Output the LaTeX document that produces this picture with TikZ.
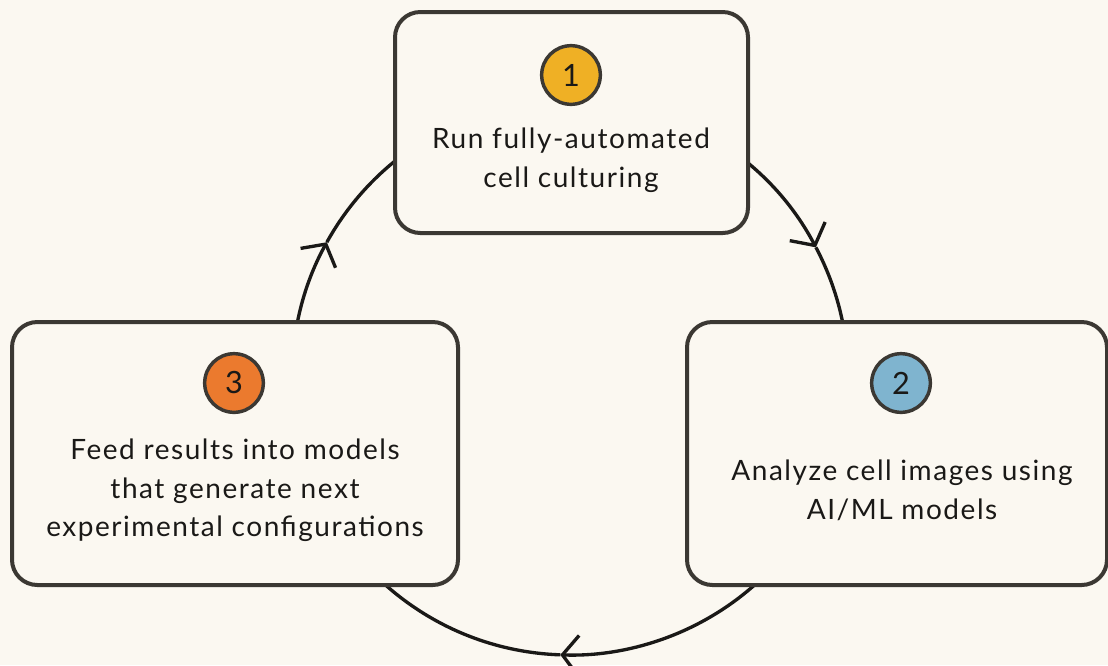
\documentclass[tikz,border=0pt]{standalone}
\usepackage{fontspec}
\setmainfont[LetterSpace=5.5]{Lato}
\usepackage{tikz}
\usetikzlibrary{arrows.meta}
\definecolor{paper}{HTML}{FBF8F1}
\definecolor{edge}{HTML}{3B3833}
\definecolor{ink}{HTML}{1A1917}
\definecolor{stepyellow}{HTML}{EFB025}
\definecolor{stepblue}{HTML}{7FB4CF}
\definecolor{steporange}{HTML}{EB7A2E}
\tikzset{
  stagebox/.style={draw=edge,line width=3pt,fill=paper,rounded corners=19pt,inner sep=0pt},
  badge/.style={circle,draw=edge,line width=2.6pt,minimum size=44pt,inner sep=0pt,text=ink,font=\fontsize{23}{26}\selectfont},
  stagetext/.style={align=center,text=ink,font=\fontsize{21}{29}\selectfont},
  loopline/.style={draw=ink,line width=2.5pt},
  loophead/.style={loopline,-{Straight Barb[length=12pt,width=30pt,line width=2.5pt]}}
}
\begin{document}
\begin{tikzpicture}[x=0.75pt,y=-0.75pt]
  \fill[paper] (0,0) rectangle (1108,665);
  \useasboundingbox (0,0) rectangle (1108,665);
  \coordinate (hub) at (570,377);
  \path (hub) ++(-90:278) coordinate (ctop)
        (hub) ++(-27.8:278) coordinate (cright)
        (hub) ++(92:278) coordinate (cbottom)
        (hub) ++(209:278) coordinate (cleft);
  % the cycle
  \draw[loophead] (ctop) arc[start angle=-90,end angle=-27.8,radius=278];
  \draw[loophead] (cright) arc[start angle=-27.8,end angle=92,radius=278];
  \draw[loophead] (cbottom) arc[start angle=92,end angle=209,radius=278];
  \draw[loopline] (cleft) arc[start angle=209,end angle=270,radius=278];
  % stages
  \node[stagebox,minimum width=264.75pt,minimum height=165.75pt] (culture) at (571.5,122.5) {};
  \node[stagebox,minimum width=315pt,minimum height=197.25pt] (analyze) at (897,453.5) {};
  \node[stagebox,minimum width=334.5pt,minimum height=197.25pt] (feed) at (235,453.5) {};
  \node[badge,fill=stepyellow] (one) at (571,75) {1};
  \node[badge,fill=stepblue] (two) at (901,383) {2};
  \node[badge,fill=steporange] (three) at (234,383) {3};
  \node[stagetext] (cultureText) at (571,160.5) {Run fully-automated\\cell culturing};
  \node[stagetext] (analyzeText) at (902,490) {Analyze cell images using\\AI/ML models};
  \node[stagetext] (feedText) at (235,490.5) {Feed results into models\\that generate next\\experimental configurations};
\end{tikzpicture}
\end{document}
